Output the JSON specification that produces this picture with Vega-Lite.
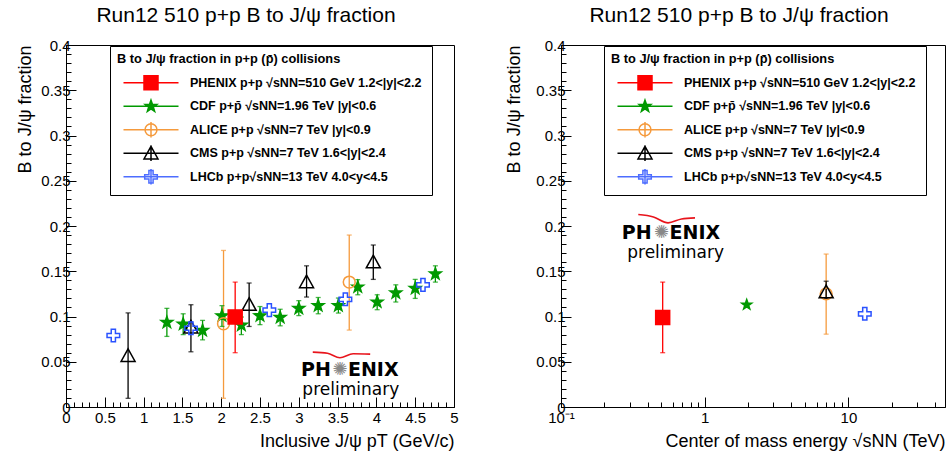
{
  "$schema": "https://vega.github.io/schema/vega-lite/v6.json",
  "padding": {"left": 16, "top": 4, "right": 0, "bottom": 0},
  "autosize": {"type": "pad"},
  "background": "white",
  "bounds": "flush",
  "spacing": 107,
  "datasets": {
    "pt": [
      {"series": "CDF", "x": 1.30, "y": 0.0935, "lo": 0.078, "hi": 0.109},
      {"series": "CDF", "x": 1.51, "y": 0.0916, "lo": 0.080, "hi": 0.103},
      {"series": "CDF", "x": 1.76, "y": 0.0846, "lo": 0.0742, "hi": 0.0957},
      {"series": "CDF", "x": 2.01, "y": 0.1008, "lo": 0.089, "hi": 0.112},
      {"series": "CDF", "x": 2.26, "y": 0.0905, "lo": 0.080, "hi": 0.0994},
      {"series": "CDF", "x": 2.50, "y": 0.1008, "lo": 0.091, "hi": 0.111},
      {"series": "CDF", "x": 2.76, "y": 0.099, "lo": 0.0897, "hi": 0.108},
      {"series": "CDF", "x": 3.00, "y": 0.109, "lo": 0.101, "hi": 0.1175},
      {"series": "CDF", "x": 3.25, "y": 0.112, "lo": 0.103, "hi": 0.121},
      {"series": "CDF", "x": 3.51, "y": 0.112, "lo": 0.1038, "hi": 0.1204},
      {"series": "CDF", "x": 3.76, "y": 0.1326, "lo": 0.124, "hi": 0.1407},
      {"series": "CDF", "x": 4.01, "y": 0.116, "lo": 0.1075, "hi": 0.124},
      {"series": "CDF", "x": 4.25, "y": 0.126, "lo": 0.116, "hi": 0.135},
      {"series": "CDF", "x": 4.50, "y": 0.131, "lo": 0.120, "hi": 0.141},
      {"series": "CDF", "x": 4.76, "y": 0.147, "lo": 0.138, "hi": 0.156},
      {"series": "ALICE", "x": 2.03, "y": 0.092, "lo": 0.0096, "hi": 0.173},
      {"series": "ALICE", "x": 3.65, "y": 0.138, "lo": 0.085, "hi": 0.190},
      {"series": "CMS", "x": 0.80, "y": 0.0565, "lo": 0.0096, "hi": 0.104},
      {"series": "CMS", "x": 1.61, "y": 0.088, "lo": 0.061, "hi": 0.113},
      {"series": "CMS", "x": 2.36, "y": 0.113, "lo": 0.089, "hi": 0.137},
      {"series": "CMS", "x": 3.10, "y": 0.138, "lo": 0.1215, "hi": 0.156},
      {"series": "CMS", "x": 3.96, "y": 0.160, "lo": 0.141, "hi": 0.179},
      {"series": "LHCb", "x": 0.61, "y": 0.079},
      {"series": "LHCb", "x": 1.61, "y": 0.087},
      {"series": "LHCb", "x": 2.62, "y": 0.107},
      {"series": "LHCb", "x": 3.60, "y": 0.119},
      {"series": "LHCb", "x": 4.60, "y": 0.135},
      {"series": "PHENIX", "x": 2.18, "y": 0.0995, "lo": 0.060, "hi": 0.138}
    ],
    "energy": [
      {"series": "CDF", "x": 1.96, "y": 0.113},
      {"series": "ALICE", "x": 7, "y": 0.125, "lo": 0.0805, "hi": 0.169},
      {"series": "CMS", "x": 7, "y": 0.127, "lo": 0.1197, "hi": 0.139},
      {"series": "LHCb", "x": 13, "y": 0.103},
      {"series": "PHENIX", "x": 0.51, "y": 0.099, "lo": 0.060, "hi": 0.138}
    ],
    "one": [{}],
    "arcL": [
      {"x": 3.18, "y": 0.0606},
      {"x": 3.37, "y": 0.0594},
      {"x": 3.53, "y": 0.0545},
      {"x": 3.70, "y": 0.0588},
      {"x": 3.92, "y": 0.0584}
    ],
    "arcR": [
      {"x": 0.345, "y": 0.2127},
      {"x": 0.44, "y": 0.2100},
      {"x": 0.556, "y": 0.2035},
      {"x": 0.69, "y": 0.2078},
      {"x": 0.856, "y": 0.2090}
    ]
  },
  "config": {
    "font": "Liberation Sans",
    "view": {"stroke": "black", "strokeWidth": 1},
    "axis": {
      "grid": false, "domainColor": "black", "domainWidth": 1, "tickColor": "black", "tickWidth": 1,
      "labelColor": "black", "labelFont": "Liberation Sans", "labelFontSize": 15,
      "titleColor": "black", "titleFont": "Liberation Sans", "titleFontSize": 18, "titleFontWeight": "normal",
      "labelOverlap": false, "labelFlush": false, "labelBound": false, "titleAnchor": "end"
    },
    "title": {"font": "Liberation Sans", "fontSize": 21, "fontWeight": "normal", "color": "black", "anchor": "middle", "baseline": "alphabetic", "offset": 12, "dx": -14},
    "legend": {
      "orient": "none", "legendY": 1, "strokeColor": "black", "fillColor": "white", "padding": 7, "cornerRadius": 0,
      "titleFont": "Liberation Sans", "titleFontSize": 12.8, "titleFontWeight": "bold", "titleColor": "black", "titleLimit": 500, "titlePadding": 9,
      "labelFont": "Liberation Sans", "labelFontSize": 12.5, "labelFontWeight": "bold", "labelColor": "black", "labelLimit": 500,
      "symbolSize": 196, "symbolStrokeWidth": 1.5, "symbolOffset": 26, "labelOffset": 31, "rowPadding": 1.5, "gridAlign": "all"
    }
  },
  "resolve": {"scale": {"fill": "independent", "stroke": "independent", "shape": "independent", "color": "independent"}},
  "hconcat": [
    {
      "width": 388, "height": 362,
      "title": {"text": "Run12 510 p+p B to J/ψ fraction"},
      "resolve": {"axis": {"x": "independent", "y": "independent"}, "scale": {"fill": "independent", "stroke": "independent", "shape": "independent"}},
      "layer": [
        {
          "data": {"name": "pt"},
          "mark": {"type": "rule", "strokeWidth": 1.3},
          "encoding": {
            "x": {"field": "x", "type": "quantitative", "title": "Inclusive J/ψ pT (GeV/c)",
              "scale": {"domain": [0, 5], "nice": false, "zero": false},
              "axis": {"orient": "bottom", "values": [0,0.5,1,1.5,2,2.5,3,3.5,4,4.5,5], "format": "~g", "tickSize": -10, "labelPadding": 13, "titlePadding": 7}
            },
            "y": {"field": "lo", "type": "quantitative", "title": "B to J/ψ fraction",
              "scale": {"domain": [0, 0.4], "nice": false},
              "axis": {"orient": "left", "values": [0,0.05,0.1,0.15,0.2,0.25,0.3,0.35,0.4], "format": "~g", "tickSize": -10, "labelPadding": 6, "titlePadding": 6}
            },
            "y2": {"field": "hi"},
            "color": {"field": "series", "type": "nominal", "legend": null,
              "scale": {"domain": ["CDF", "ALICE", "CMS", "LHCb", "PHENIX"], "range": ["#009900", "#f59a3c", "#000000", "#2a52ff", "#ff0000"]}}
          }
        },
        {
          "data": {"name": "pt"},
          "mark": {"type": "tick", "orient": "horizontal", "size": 5, "thickness": 1.3},
          "encoding": {
            "x": {"field": "x", "type": "quantitative",
              "axis": {"orient": "bottom", "title": null, "labels": false, "domain": false, "tickSize": -5,
                "values": [0.1,0.2,0.3,0.4,0.6,0.7,0.8,0.9,1.1,1.2,1.3,1.4,1.6,1.7,1.8,1.9,2.1,2.2,2.3,2.4,2.6,2.7,2.8,2.9,3.1,3.2,3.3,3.4,3.6,3.7,3.8,3.9,4.1,4.2,4.3,4.4,4.6,4.7,4.8,4.9]}},
            "y": {"field": "lo", "type": "quantitative",
              "axis": {"orient": "left", "title": null, "labels": false, "domain": false, "tickSize": -5,
                "values": [0.01,0.02,0.03,0.04,0.06,0.07,0.08,0.09,0.11,0.12,0.13,0.14,0.16,0.17,0.18,0.19,0.21,0.22,0.23,0.24,0.26,0.27,0.28,0.29,0.31,0.32,0.33,0.34,0.36,0.37,0.38,0.39]}},
            "color": {"field": "series", "type": "nominal", "legend": null}
          }
        },
        {
          "data": {"name": "pt"},
          "mark": {"type": "tick", "orient": "horizontal", "size": 5, "thickness": 1.3},
          "encoding": {
            "x": {"field": "x", "type": "quantitative", "axis": null},
            "y": {"field": "hi", "type": "quantitative", "axis": null},
            "color": {"field": "series", "type": "nominal", "legend": null}
          }
        },
        {
          "data": {"name": "pt"},
          "mark": {"type": "point", "size": 196, "strokeWidth": 1.5, "opacity": 1},
          "encoding": {
            "x": {"field": "x", "type": "quantitative", "axis": null},
            "y": {"field": "y", "type": "quantitative", "axis": null},
            "shape": {"field": "series", "type": "nominal", "legend": null,
              "scale": {"domain": ["LHCb", "CMS", "ALICE", "CDF", "PHENIX"],
                "range": ["M-0.3,-0.9H0.3V-0.3H0.9V0.3H0.3V0.9H-0.3V0.3H-0.9V-0.3H-0.3Z", "M0,-1L1,0.8L-1,0.8Z", "M-0.85,0A0.85,0.85 0 1,0 0.85,0A0.85,0.85 0 1,0 -0.85,0Z", "M0,-0.88L0.207,-0.285L0.837,-0.272L0.334,0.109L0.517,0.712L0,0.352L-0.517,0.712L-0.334,0.109L-0.837,-0.272L-0.207,-0.285Z", "M-1,-1H1V1H-1Z"]}},
            "fill": {"field": "series", "type": "nominal", "legend": null,
              "scale": {"domain": ["LHCb", "CMS", "ALICE", "CDF", "PHENIX"], "range": ["transparent", "transparent", "transparent", "#009900", "#ff0000"]}},
            "stroke": {"field": "series", "type": "nominal", "legend": null,
              "scale": {"domain": ["LHCb", "CMS", "ALICE", "CDF", "PHENIX"], "range": ["#2a52ff", "#000000", "#f59a3c", "#009900", "#ff0000"]}}
          }
        },
        {
          "data": {"name": "pt"},
          "transform": [{"filter": "false"}],
          "mark": {"type": "point", "size": 196, "strokeWidth": 1.5, "opacity": 1},
          "encoding": {
            "x": {"field": "x", "type": "quantitative", "axis": null},
            "y": {"field": "y", "type": "quantitative", "axis": null},
            "shape": {"field": "series", "type": "nominal",
              "scale": {"domain": ["PHENIX", "CDF", "ALICE", "CMS", "LHCb"],
                "range": ["M-1,-1H1V1H-1Z M-3.93,0H3.93", "M0,-0.88L0.207,-0.285L0.837,-0.272L0.334,0.109L0.517,0.712L0,0.352L-0.517,0.712L-0.334,0.109L-0.837,-0.272L-0.207,-0.285Z M-3.93,0H3.93", "M-0.85,0A0.85,0.85 0 1,0 0.85,0A0.85,0.85 0 1,0 -0.85,0Z M-3.93,0H3.93 M0,-1.1V1.1", "M0,-1L1,0.8L-1,0.8Z M-3.93,0H3.93 M0,-1.1V1.1", "M-0.3,-0.9H0.3V-0.3H0.9V0.3H0.3V0.9H-0.3V0.3H-0.9V-0.3H-0.3Z M-3.93,0H3.93 M0,-1.1V1.1"]},
              "legend": {
                "title": "B to J/ψ fraction in p+p (p̄) collisions", "legendX": 44,
                "labelExpr": "datum.label == 'PHENIX' ? 'PHENIX p+p  √sNN=510 GeV 1.2<|y|<2.2\u00a0\u00a0\u00a0\u00a0' : datum.label == 'CDF' ? 'CDF p+p̄ √sNN=1.96 TeV |y|<0.6' : datum.label == 'ALICE' ? 'ALICE p+p √sNN=7 TeV  |y|<0.9' : datum.label == 'CMS' ? 'CMS p+p √sNN=7 TeV 1.6<|y|<2.4' : 'LHCb p+p√sNN=13 TeV 4.0<y<4.5'"
              }
            },
            "fill": {"field": "series", "type": "nominal",
              "scale": {"domain": ["PHENIX", "CDF", "ALICE", "CMS", "LHCb"], "range": ["#ff0000", "#009900", "transparent", "transparent", "transparent"]}},
            "stroke": {"field": "series", "type": "nominal",
              "scale": {"domain": ["PHENIX", "CDF", "ALICE", "CMS", "LHCb"], "range": ["#ff0000", "#009900", "#f59a3c", "#000000", "#4d6dff"]}}
          }
        },
        {
          "data": {"name": "arcL"},
          "mark": {"type": "line", "color": "#e8141c", "strokeWidth": 1.6, "interpolate": "monotone"},
          "encoding": {
            "x": {"field": "x", "type": "quantitative", "axis": null},
            "y": {"field": "y", "type": "quantitative", "axis": null}
          }
        },
        {
          "data": {"name": "one"},
          "mark": {"type": "text", "text": "PH", "align": "right", "baseline": "middle", "dx": -9, "font": "DejaVu Sans", "fontWeight": "bold", "fontSize": 19, "color": "black"},
          "encoding": {"x": {"datum": 3.53, "type": "quantitative", "axis": null}, "y": {"datum": 0.041, "type": "quantitative", "axis": null}}
        },
        {
          "data": {"name": "one"},
          "mark": {"type": "text", "text": "✺", "align": "center", "baseline": "middle", "font": "DejaVu Sans", "fontSize": 18, "color": "#888888"},
          "encoding": {"x": {"datum": 3.53, "type": "quantitative", "axis": null}, "y": {"datum": 0.041, "type": "quantitative", "axis": null}}
        },
        {
          "data": {"name": "one"},
          "mark": {"type": "text", "text": "ENIX", "align": "left", "baseline": "middle", "dx": 8, "font": "DejaVu Sans", "fontWeight": "bold", "fontSize": 19, "color": "black"},
          "encoding": {"x": {"datum": 3.53, "type": "quantitative", "axis": null}, "y": {"datum": 0.041, "type": "quantitative", "axis": null}}
        },
        {
          "data": {"name": "one"},
          "mark": {"type": "text", "text": "preliminary", "align": "center", "baseline": "middle", "font": "DejaVu Sans", "fontSize": 17, "color": "black"},
          "encoding": {"x": {"datum": 3.67, "type": "quantitative", "axis": null}, "y": {"datum": 0.0188, "type": "quantitative", "axis": null}}
        }
      ]
    },
    {
      "width": 384, "height": 362,
      "title": {"text": "Run12 510 p+p B to J/ψ fraction"},
      "resolve": {"axis": {"x": "independent", "y": "independent"}, "scale": {"fill": "independent", "stroke": "independent", "shape": "independent"}},
      "layer": [
        {
          "data": {"name": "energy"},
          "mark": {"type": "rule", "strokeWidth": 1.3},
          "encoding": {
            "x": {"field": "x", "type": "quantitative", "title": "Center of mass energy √sNN (TeV)",
              "scale": {"type": "log", "domain": [0.1, 47], "nice": false},
              "axis": {"orient": "bottom", "values": [0.1, 1, 10],
                "labelExpr": "datum.value < 0.5 ? '10⁻¹' : datum.value < 5 ? '1' : '10'",
                "tickSize": -10, "labelPadding": 13, "titlePadding": 7}
            },
            "y": {"field": "lo", "type": "quantitative", "title": "B to J/ψ fraction",
              "scale": {"domain": [0, 0.4], "nice": false},
              "axis": {"orient": "left", "values": [0,0.05,0.1,0.15,0.2,0.25,0.3,0.35,0.4], "format": "~g", "tickSize": -10, "labelPadding": 6, "titlePadding": 12}
            },
            "y2": {"field": "hi"},
            "color": {"field": "series", "type": "nominal", "legend": null,
              "scale": {"domain": ["CDF", "ALICE", "CMS", "LHCb", "PHENIX"], "range": ["#009900", "#f59a3c", "#000000", "#2a52ff", "#ff0000"]}}
          }
        },
        {
          "data": {"name": "energy"},
          "mark": {"type": "tick", "orient": "horizontal", "size": 5, "thickness": 1.3},
          "encoding": {
            "x": {"field": "x", "type": "quantitative",
              "axis": {"orient": "bottom", "title": null, "labels": false, "domain": false, "tickSize": -5,
                "values": [0.2,0.3,0.4,0.5,0.6,0.7,0.8,0.9,2,3,4,5,6,7,8,9,20,30,40]}},
            "y": {"field": "lo", "type": "quantitative",
              "axis": {"orient": "left", "title": null, "labels": false, "domain": false, "tickSize": -5,
                "values": [0.01,0.02,0.03,0.04,0.06,0.07,0.08,0.09,0.11,0.12,0.13,0.14,0.16,0.17,0.18,0.19,0.21,0.22,0.23,0.24,0.26,0.27,0.28,0.29,0.31,0.32,0.33,0.34,0.36,0.37,0.38,0.39]}},
            "color": {"field": "series", "type": "nominal", "legend": null}
          }
        },
        {
          "data": {"name": "energy"},
          "mark": {"type": "tick", "orient": "horizontal", "size": 5, "thickness": 1.3},
          "encoding": {
            "x": {"field": "x", "type": "quantitative", "axis": null},
            "y": {"field": "hi", "type": "quantitative", "axis": null},
            "color": {"field": "series", "type": "nominal", "legend": null}
          }
        },
        {
          "data": {"name": "energy"},
          "mark": {"type": "point", "size": 196, "strokeWidth": 1.5, "opacity": 1},
          "encoding": {
            "x": {"field": "x", "type": "quantitative", "axis": null},
            "y": {"field": "y", "type": "quantitative", "axis": null},
            "shape": {"field": "series", "type": "nominal", "legend": null,
              "scale": {"domain": ["LHCb", "CMS", "ALICE", "CDF", "PHENIX"],
                "range": ["M-0.3,-0.9H0.3V-0.3H0.9V0.3H0.3V0.9H-0.3V0.3H-0.9V-0.3H-0.3Z", "M0,-1L1,0.8L-1,0.8Z", "M-0.85,0A0.85,0.85 0 1,0 0.85,0A0.85,0.85 0 1,0 -0.85,0Z", "M0,-0.75L0.176,-0.243L0.713,-0.232L0.285,0.093L0.441,0.607L0,0.3L-0.441,0.607L-0.285,0.093L-0.713,-0.232L-0.176,-0.243Z", "M-1,-1H1V1H-1Z"]}},
            "fill": {"field": "series", "type": "nominal", "legend": null,
              "scale": {"domain": ["LHCb", "CMS", "ALICE", "CDF", "PHENIX"], "range": ["transparent", "transparent", "transparent", "#009900", "#ff0000"]}},
            "stroke": {"field": "series", "type": "nominal", "legend": null,
              "scale": {"domain": ["LHCb", "CMS", "ALICE", "CDF", "PHENIX"], "range": ["#2a52ff", "#000000", "#f59a3c", "#009900", "#ff0000"]}}
          }
        },
        {
          "data": {"name": "energy"},
          "transform": [{"filter": "false"}],
          "mark": {"type": "point", "size": 196, "strokeWidth": 1.5, "opacity": 1},
          "encoding": {
            "x": {"field": "x", "type": "quantitative", "axis": null},
            "y": {"field": "y", "type": "quantitative", "axis": null},
            "shape": {"field": "series", "type": "nominal",
              "scale": {"domain": ["PHENIX", "CDF", "ALICE", "CMS", "LHCb"],
                "range": ["M-1,-1H1V1H-1Z M-3.93,0H3.93", "M0,-0.88L0.207,-0.285L0.837,-0.272L0.334,0.109L0.517,0.712L0,0.352L-0.517,0.712L-0.334,0.109L-0.837,-0.272L-0.207,-0.285Z M-3.93,0H3.93", "M-0.85,0A0.85,0.85 0 1,0 0.85,0A0.85,0.85 0 1,0 -0.85,0Z M-3.93,0H3.93 M0,-1.1V1.1", "M0,-1L1,0.8L-1,0.8Z M-3.93,0H3.93 M0,-1.1V1.1", "M-0.3,-0.9H0.3V-0.3H0.9V0.3H0.3V0.9H-0.3V0.3H-0.9V-0.3H-0.3Z M-3.93,0H3.93 M0,-1.1V1.1"]},
              "legend": {
                "title": "B to J/ψ fraction in p+p (p̄) collisions", "legendX": 43,
                "labelExpr": "datum.label == 'PHENIX' ? 'PHENIX p+p  √sNN=510 GeV 1.2<|y|<2.2\u00a0\u00a0\u00a0\u00a0' : datum.label == 'CDF' ? 'CDF p+p̄ √sNN=1.96 TeV |y|<0.6' : datum.label == 'ALICE' ? 'ALICE p+p √sNN=7 TeV  |y|<0.9' : datum.label == 'CMS' ? 'CMS p+p √sNN=7 TeV 1.6<|y|<2.4' : 'LHCb p+p√sNN=13 TeV 4.0<y<4.5'"
              }
            },
            "fill": {"field": "series", "type": "nominal",
              "scale": {"domain": ["PHENIX", "CDF", "ALICE", "CMS", "LHCb"], "range": ["#ff0000", "#009900", "transparent", "transparent", "transparent"]}},
            "stroke": {"field": "series", "type": "nominal",
              "scale": {"domain": ["PHENIX", "CDF", "ALICE", "CMS", "LHCb"], "range": ["#ff0000", "#009900", "#f59a3c", "#000000", "#4d6dff"]}}
          }
        },
        {
          "data": {"name": "arcR"},
          "mark": {"type": "line", "color": "#e8141c", "strokeWidth": 1.6, "interpolate": "monotone"},
          "encoding": {
            "x": {"field": "x", "type": "quantitative", "axis": null},
            "y": {"field": "y", "type": "quantitative", "axis": null}
          }
        },
        {
          "data": {"name": "one"},
          "mark": {"type": "text", "text": "PH", "align": "right", "baseline": "middle", "dx": -10, "font": "DejaVu Sans", "fontWeight": "bold", "fontSize": 19, "color": "black"},
          "encoding": {"x": {"datum": 0.5013, "type": "quantitative", "axis": null}, "y": {"datum": 0.1925, "type": "quantitative", "axis": null}}
        },
        {
          "data": {"name": "one"},
          "mark": {"type": "text", "text": "✺", "align": "center", "baseline": "middle", "font": "DejaVu Sans", "fontSize": 18, "color": "#888888"},
          "encoding": {"x": {"datum": 0.5013, "type": "quantitative", "axis": null}, "y": {"datum": 0.1925, "type": "quantitative", "axis": null}}
        },
        {
          "data": {"name": "one"},
          "mark": {"type": "text", "text": "ENIX", "align": "left", "baseline": "middle", "dx": 8, "font": "DejaVu Sans", "fontWeight": "bold", "fontSize": 19, "color": "black"},
          "encoding": {"x": {"datum": 0.5013, "type": "quantitative", "axis": null}, "y": {"datum": 0.1925, "type": "quantitative", "axis": null}}
        },
        {
          "data": {"name": "one"},
          "mark": {"type": "text", "text": "preliminary", "align": "center", "baseline": "middle", "font": "DejaVu Sans", "fontSize": 17, "color": "black"},
          "encoding": {"x": {"datum": 0.628, "type": "quantitative", "axis": null}, "y": {"datum": 0.170, "type": "quantitative", "axis": null}}
        }
      ]
    }
  ]
}
